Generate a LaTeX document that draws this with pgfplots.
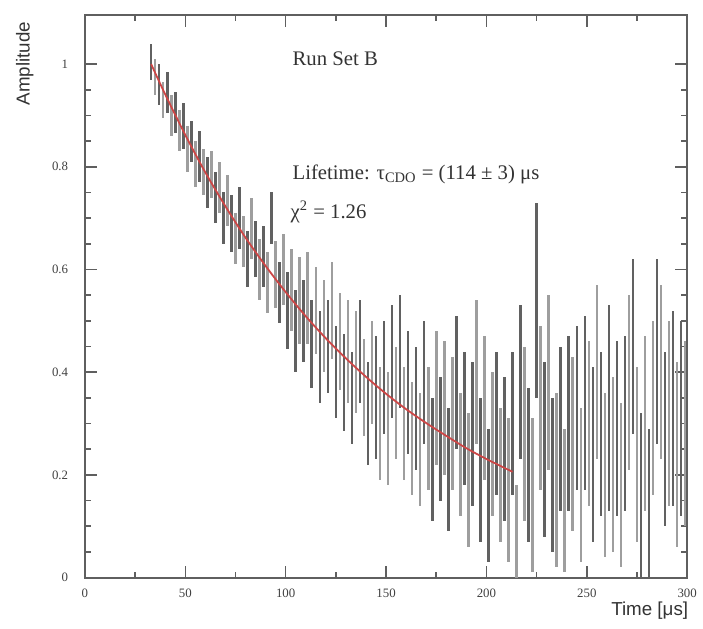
\documentclass[border=0pt]{standalone}
\usepackage{fontspec}
\setmainfont{Liberation Serif}
\setsansfont{Liberation Sans}
\usepackage{pgfplots}
\pgfplotsset{compat=1.18}
\usepackage{pgfplotstable}

\pgfplotstableread{
t y e
33 1.005 0.035
35 0.975 0.035
37 0.960 0.040
39 0.930 0.035
41 0.945 0.040
43 0.900 0.040
45 0.905 0.040
47 0.870 0.040
49 0.880 0.045
51 0.835 0.045
53 0.850 0.040
55 0.805 0.045
57 0.820 0.050
59 0.790 0.045
61 0.770 0.050
63 0.785 0.045
65 0.740 0.050
67 0.760 0.050
69 0.700 0.050
71 0.735 0.050
73 0.690 0.055
75 0.660 0.050
77 0.700 0.060
79 0.655 0.050
81 0.620 0.055
83 0.680 0.060
85 0.640 0.055
87 0.600 0.060
89 0.625 0.060
91 0.575 0.060
93 0.700 0.050
95 0.590 0.065
97 0.555 0.060
99 0.600 0.070
101 0.520 0.075
103 0.560 0.080
105 0.480 0.080
107 0.540 0.085
109 0.500 0.080
111 0.545 0.090
113 0.455 0.085
115 0.520 0.085
117 0.430 0.090
119 0.490 0.090
121 0.450 0.090
123 0.520 0.095
125 0.400 0.090
127 0.460 0.095
129 0.380 0.095
131 0.440 0.100
133 0.350 0.090
135 0.420 0.100
137 0.440 0.100
139 0.370 0.095
141 0.320 0.100
143 0.400 0.100
145 0.350 0.120
147 0.300 0.110
149 0.390 0.110
151 0.290 0.110
153 0.420 0.110
155 0.340 0.110
157 0.440 0.110
159 0.300 0.110
161 0.360 0.120
163 0.270 0.110
165 0.330 0.120
167 0.250 0.110
169 0.380 0.120
171 0.290 0.120
173 0.230 0.120
175 0.350 0.130
177 0.270 0.120
179 0.330 0.130
181 0.210 0.120
183 0.300 0.130
185 0.380 0.130
187 0.240 0.120
189 0.310 0.130
191 0.190 0.130
193 0.280 0.140
195 0.400 0.140
197 0.210 0.140
199 0.330 0.140
201 0.160 0.130
203 0.260 0.140
205 0.300 0.140
207 0.200 0.130
209 0.250 0.140
211 0.170 0.140
213 0.300 0.140
215 0.090 0.090
217 0.380 0.150
219 0.280 0.170
221 0.220 0.150
223 0.160 0.150
225 0.540 0.190
227 0.330 0.160
229 0.250 0.170
231 0.380 0.170
233 0.200 0.150
235 0.190 0.170
237 0.290 0.160
239 0.150 0.140
241 0.300 0.170
243 0.260 0.170
245 0.330 0.160
247 0.180 0.150
249 0.340 0.170
251 0.300 0.160
253 0.240 0.170
255 0.400 0.170
257 0.280 0.160
259 0.200 0.160
261 0.330 0.200
263 0.220 0.170
265 0.290 0.170
267 0.180 0.160
269 0.300 0.170
271 0.380 0.170
273 0.450 0.170
275 0.240 0.170
277 0.160 0.160
279 0.300 0.170
281 0.140 0.150
283 0.330 0.170
285 0.440 0.180
287 0.400 0.170
289 0.270 0.170
291 0.320 0.180
293 0.330 0.190
295 0.240 0.180
297 0.310 0.190
299 0.280 0.180
}\datatable

\definecolor{fitred}{RGB}{205,70,70}
\definecolor{axgray}{RGB}{95,95,95}

\begin{document}
\begin{tikzpicture}
\begin{axis}[
  scale only axis,
  width=305pt, height=285pt,
  xmin=0, xmax=300, ymin=0, ymax=1.096,
  xtick={0,50,100,150,200,250,300},
  ytick={0,0.2,0.4,0.6,0.8,1},
  yticklabels={0,0.2,0.4,0.6,0.8,1},
  minor x tick num=1, minor y tick num=3,
  tick align=inside,
  major tick length=6pt, minor tick length=3pt,
  axis line style={line width=1pt, axgray},
  every tick/.style={axgray, line width=0.8pt},
  /pgf/number format/assume math mode=true,
  tick label style={font=\fontsize{6.5}{7}\selectfont, text=black!75},
  yticklabel style={xshift=-5pt},
  xticklabel style={yshift=-2pt},
  xlabel={\sffamily Time [μs]},
  ylabel={\sffamily Amplitude},
  label style={font=\fontsize{9.5}{10}\selectfont, text=black!80},
  xlabel style={at={(axis description cs:1,0)}, anchor=north east, yshift=-9pt, xshift=4pt},
  ylabel style={at={(axis description cs:-0.1,1)}, anchor=east},
  unbounded coords=discard,
]
% darker bars
\addplot[draw=none, mark=none,
  x filter/.expression={mod(x,4)==1 ? x : nan},
  error bars/.cd, y dir=both, y explicit,
  error mark=none,
  error bar style={line width=1.3pt, black!62}]
  table[x=t, y=y, y error=e] {\datatable};
% lighter bars
\addplot[draw=none, mark=none,
  x filter/.expression={mod(x,4)==3 ? x : nan},
  error bars/.cd, y dir=both, y explicit,
  error mark=none,
  error bar style={line width=1.3pt, black!38}]
  table[x=t, y=y, y error=e] {\datatable};

\addplot[fitred, line width=0.9pt, smooth, mark=none] coordinates {
(33,1.000) (40,0.941) (50,0.862) (60,0.789) (70,0.723) (80,0.662)
(90,0.607) (100,0.556) (110,0.509) (120,0.466) (130,0.427) (140,0.391)
(150,0.358) (160,0.328) (170,0.301) (180,0.276) (190,0.252) (200,0.231)
(213,0.206)};

\node[anchor=west, font=\fontsize{10.5}{12}\selectfont, text=black!80] at (axis cs:100,1.01) {Run Set B};
\node[anchor=west, font=\fontsize{10.5}{12}\selectfont, text=black!80] at (axis cs:100,0.785) {Lifetime: τ\textsubscript{CDO} = (114 ± 3) μs};
\node[anchor=west, font=\fontsize{10.5}{12}\selectfont, text=black!80] at (axis cs:99,0.712) {χ\textsuperscript{2} = 1.26};
\end{axis}
\pgfresetboundingbox
\path (current axis.south west) +(-43pt,-26pt);
\path (current axis.north east) +(8pt,7.5pt);
\end{tikzpicture}
\end{document}
